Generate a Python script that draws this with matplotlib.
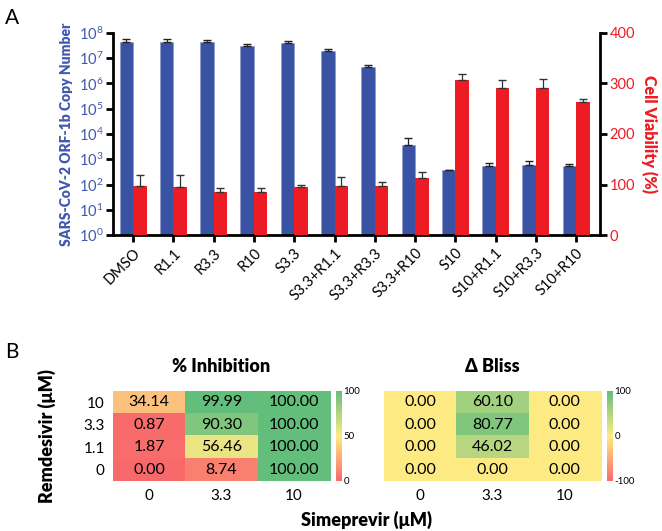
import numpy as np
import matplotlib
matplotlib.use("Agg")
import matplotlib.pyplot as plt
from matplotlib.colors import LinearSegmentedColormap, TwoSlopeNorm
from matplotlib.ticker import LogLocator, LogFormatterSciNotation, NullLocator

plt.rcParams['font.family'] = ['Lato', 'DejaVu Sans']
plt.rcParams['mathtext.fontset'] = 'custom'
plt.rcParams['mathtext.rm'] = 'Lato'
plt.rcParams['mathtext.it'] = 'Lato:italic'
plt.rcParams['mathtext.bf'] = 'Lato:bold'
plt.rcParams['axes.unicode_minus'] = False

# panel A data
groups = ['DMSO', 'R1.1', 'R3.3', 'R10', 'S3.3', 'S3.3+R1.1', 'S3.3+R3.3',
          'S3.3+R10', 'S10', 'S10+R1.1', 'S10+R3.3', 'S10+R10']
copies = [4.5e7, 4.5e7, 4.5e7, 3.1e7, 4.1e7, 2.0e7, 4.3e6,
          3.6e3, 3.7e2, 5.4e2, 5.9e2, 5.4e2]
copies_hi = [5.6e7, 5.6e7, 5.3e7, 3.6e7, 4.7e7, 2.3e7, 5.3e6,
             6.8e3, 3.9e2, 7.2e2, 8.5e2, 6.5e2]
viability = [98, 95, 86, 85, 95, 98, 98, 112, 307, 291, 291, 263]
viab_err = [20, 23, 7, 9, 5, 16, 6, 13, 12, 16, 18, 6]

# panel B data
remdesivir = ['10', '3.3', '1.1', '0']
simeprevir = ['0', '3.3', '10']
inhibition = np.array([[34.14, 99.99, 100.00],
                       [0.87, 90.30, 100.00],
                       [1.87, 56.46, 100.00],
                       [0.00, 8.74, 100.00]])
bliss = np.array([[0.00, 60.10, 0.00],
                  [0.00, 80.77, 0.00],
                  [0.00, 46.02, 0.00],
                  [0.00, 0.00, 0.00]])

blue = '#3A52A4'
red = '#ED1C24'
blue_txt = '#4058B0'

fig = plt.figure(figsize=(6.62, 5.31), dpi=100)

# ---- panel A ----
ax = fig.add_axes([0.1707, 0.5574, 0.7356, 0.3805])
ax2 = ax.twinx()
x = np.arange(len(groups))
w = 0.335
copies = np.array(copies)
ax.bar(x - w / 2, copies, w, color=blue, edgecolor='#8899cc', linewidth=0.4,
       yerr=[np.zeros_like(copies), np.array(copies_hi) - copies],
       error_kw=dict(ecolor='#222222', elinewidth=0.9, capsize=3, capthick=1.0))
ax2.bar(x + w / 2, viability, w, color=red,
        yerr=[np.zeros(len(viability)), viab_err],
        error_kw=dict(ecolor='#333333', elinewidth=0.9, capsize=3, capthick=1.0))
ax.set_yscale('log')
ax.set_ylim(1, 1e8)
ax.yaxis.set_major_locator(LogLocator(base=10, numticks=12))
ax.yaxis.set_major_formatter(LogFormatterSciNotation())
ax.yaxis.set_minor_locator(NullLocator())
ax2.set_ylim(0, 400)
ax2.set_yticks([0, 100, 200, 300, 400])
ax.set_xlim(-0.5, 11.59)
ax.set_xticks(x)
ax.set_xticklabels(groups, rotation=45, ha='right', rotation_mode='anchor', fontsize=10.5)

for a in (ax, ax2):
    a.spines['top'].set_visible(False)
    for s in a.spines.values():
        s.set_linewidth(2.0)
    a.tick_params(width=2.0, length=5)
ax.spines['right'].set_visible(False)
ax2.spines['left'].set_visible(False)
ax2.spines['bottom'].set_visible(False)
ax.tick_params(axis='y', labelcolor=blue_txt, labelsize=10.5, pad=2)
ax2.tick_params(axis='y', labelcolor=red, labelsize=10.5, pad=2)
ax.tick_params(axis='x', pad=3)
ax.set_ylabel('SARS-CoV-2 ORF-1b Copy Number', color=blue_txt, fontsize=10,
              fontweight='heavy', labelpad=4)
ax2.set_ylabel('Cell Viability (%)', color=red, fontsize=11.5, fontweight='heavy',
               rotation=270, labelpad=16)

fig.text(0.008, 0.985, 'A', fontsize=15, va='top')
fig.text(0.008, 0.355, 'B', fontsize=15, va='top')

# ---- panel B ----
cmap = LinearSegmentedColormap.from_list('excel', ['#F8696B', '#FFEB84', '#63BE7B'])


def heat(rect, crect, data, norm, title, cticks):
    hax = fig.add_axes(rect)
    im = hax.imshow(data, cmap=cmap, norm=norm, aspect='auto')
    for i in range(data.shape[0]):
        for j in range(data.shape[1]):
            hax.text(j, i, f'{data[i, j]:.2f}', ha='center', va='center', fontsize=11.5)
    hax.set_xticks(range(len(simeprevir)))
    hax.set_xticklabels(simeprevir, fontsize=11)
    hax.set_yticks(range(len(remdesivir)))
    hax.set_yticklabels(remdesivir, fontsize=11)
    hax.tick_params(length=0, pad=6)
    for s in hax.spines.values():
        s.set_visible(False)
    hax.set_title(title, fontsize=13, fontweight='heavy', pad=14)
    cax = fig.add_axes(crect)
    cb = fig.colorbar(im, cax=cax, ticks=cticks)
    cb.outline.set_visible(False)
    cax.tick_params(length=0, labelsize=7, pad=1)
    return hax


h1 = heat([0.1707, 0.0942, 0.3278, 0.1695], [0.5076, 0.0942, 0.0091, 0.1695],
          inhibition, TwoSlopeNorm(vcenter=50, vmin=0, vmax=100), '% Inhibition', [0, 50, 100])
h2 = heat([0.580, 0.0942, 0.3278, 0.1695], [0.917, 0.0942, 0.0091, 0.1695],
          bliss, TwoSlopeNorm(vcenter=0, vmin=-100, vmax=100), '\u0394 Bliss', [-100, 0, 100])
h2.set_yticks([])
h1.set_ylabel('Remdesivir (\u03bcM)', fontsize=13, fontweight='heavy', labelpad=20)
fig.text(0.553, 0.021, 'Simeprevir (\u03bcM)', fontsize=13, fontweight='heavy',
         ha='center', va='center')

fig.savefig('out.png', dpi=100)
